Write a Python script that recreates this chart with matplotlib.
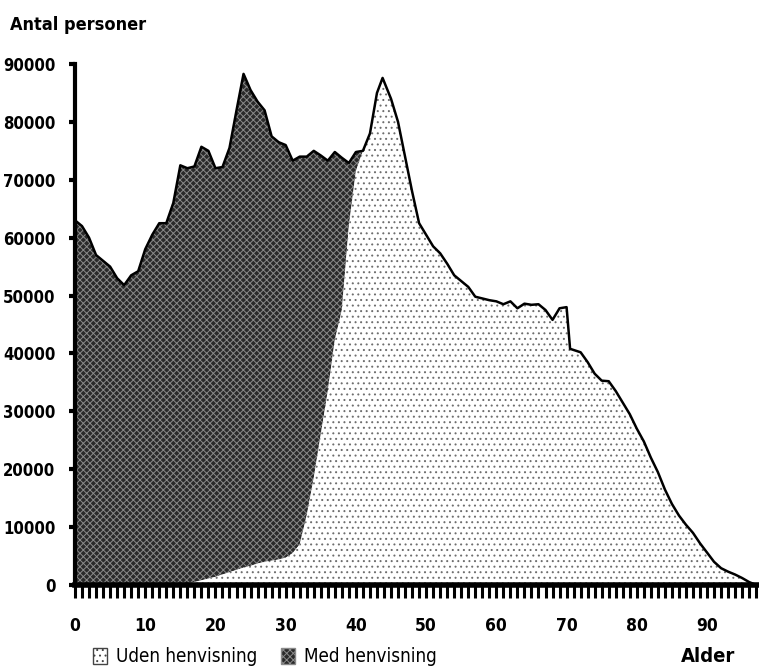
import matplotlib.pyplot as plt
from matplotlib.patches import Patch
from matplotlib.ticker import MultipleLocator

# ------------------------------------------------------------
# Data
# ------------------------------------------------------------

alder = [0, 1, 2, 3, 4, 5, 6, 7, 8, 9,
         10, 11, 12, 13, 14, 15, 16, 17, 18, 19,
         20, 21, 22, 23, 24, 25, 26, 27, 28, 29,
         30, 31, 32, 33, 34, 35, 36, 37, 38, 39,
         40, 41, 42, 43, 43.8, 45, 46, 47, 48, 49,
         50, 51, 52, 53, 54, 55, 56, 57, 58, 59,
         60, 61, 62, 63, 64, 65, 66, 67, 68, 69,
         70, 70.5, 72, 73, 74, 75, 76, 77, 78, 79,
         80, 81, 82, 83, 84, 85, 86, 87, 88, 89,
         90, 91, 92, 93, 94, 95, 96, 97]

# samlet antal personer (toppen af kurven)
total = [63000, 62000, 60000, 57000, 56000, 55000, 53000, 51800, 53500, 54200,
         58000, 60500, 62500, 62500, 66000, 72500, 72000, 72300, 75700, 75000,
         72000, 72200, 75500, 82000, 88300, 85500, 83500, 82000, 77500, 76500,
         76000, 73300, 74000, 74000, 75000, 74200, 73300, 74800, 73800, 72900,
         74800, 75000, 78000, 85000, 87600, 84000, 80000, 74000, 68000, 62500,
         60500, 58500, 57300, 55500, 53500, 52500, 51500, 49800, 49500, 49200,
         49000, 48500, 49000, 47800, 48600, 48400, 48500, 47500, 45800, 47800,
         48000, 40800, 40200, 38500, 36500, 35300, 35200, 33500, 31500, 29500,
         27000, 24800, 22000, 19500, 16500, 14000, 12000, 10400, 9000, 7200,
         5600, 4000, 2900, 2300, 1800, 1200, 500, 0]

# uden henvisning (nederste lag)
uden = [0, 0, 0, 0, 0, 0, 0, 0, 0, 0,
        0, 0, 0, 0, 0, 0, 200, 500, 800, 1100,
        1400, 1800, 2200, 2600, 3000, 3300, 3700, 4000, 4200, 4400,
        4700, 5500, 7000, 12000, 18500, 26000, 33500, 42300, 47500, 62000,
        71500, 75000, 78000, 85000, 87600, 84000, 80000, 74000, 68000, 62500,
        60500, 58500, 57300, 55500, 53500, 52500, 51500, 49800, 49500, 49200,
        49000, 48500, 49000, 47800, 48600, 48400, 48500, 47500, 45800, 47800,
        48000, 40800, 40200, 38500, 36500, 35300, 35200, 33500, 31500, 29500,
        27000, 24800, 22000, 19500, 16500, 14000, 12000, 10400, 9000, 7200,
        5600, 4000, 2900, 2300, 1800, 1200, 500, 0]

y_ticks = [0, 10000, 20000, 30000, 40000, 50000, 60000, 70000, 80000, 90000]
x_ticks = [0, 10, 20, 30, 40, 50, 60, 70, 80, 90]

# ------------------------------------------------------------
# Figur
# ------------------------------------------------------------

plt.rcParams["font.family"] = ["DejaVu Sans"]
plt.rcParams["font.stretch"] = "condensed"
plt.rcParams["hatch.linewidth"] = 0.7

fig = plt.figure(figsize=(7.59, 6.69), dpi=100)
ax = fig.add_axes([0.0988, 0.1256, 0.9012, 0.7787])

dark = ax.fill_between(alder, uden, total, facecolor="#2a2a2a",
                       edgecolor="#8a8a8a", hatch="xxxxx", linewidth=0)
light = ax.fill_between(alder, 0, uden, facecolor="white",
                        edgecolor="#6e6e6e", hatch="...", linewidth=0)
ax.plot(alder, total, color="black", lw=1.8)

ax.set_xlim(0, 97.4)
ax.set_ylim(0, 90000)

ax.set_yticks(y_ticks)
ax.set_yticklabels([str(v) for v in y_ticks])
ax.set_xticks(x_ticks)
ax.set_xticklabels([str(v) for v in x_ticks])
ax.xaxis.set_minor_locator(MultipleLocator(1))

for s in ["top", "right"]:
    ax.spines[s].set_visible(False)
ax.spines["left"].set_linewidth(3)
ax.spines["bottom"].set_linewidth(4)

ax.tick_params(axis="y", length=4, width=3, pad=10, labelsize=12)
ax.tick_params(axis="x", which="major", length=9, width=2.2, pad=14, labelsize=12.5)
ax.tick_params(axis="x", which="minor", length=9, width=2.2)
for lab in ax.get_xticklabels() + ax.get_yticklabels():
    lab.set_fontweight("bold")

fig.text(10 / 759, 1 - 25 / 669, "Antal personer", fontsize=13,
         fontweight="bold", ha="left", va="center")
fig.text(708 / 759, 1 - 657 / 669, "Alder", fontsize=14.5,
         fontweight="bold", ha="center", va="center")

handles = [
    Patch(facecolor="white", edgecolor="#444444", hatch="...", linewidth=1),
    Patch(facecolor="#2a2a2a", edgecolor="#8a8a8a", hatch="xxxxx", linewidth=1),
]
fig.legend(handles, ["Uden henvisning", "Med henvisning"],
           loc="center left", bbox_to_anchor=(93 / 759, 1 - 657 / 669),
           ncol=2, frameon=False, fontsize=13.5, borderpad=0, borderaxespad=0,
           handlelength=0.75, handleheight=0.9, handletextpad=0.45,
           columnspacing=1.3)

fig.savefig("out.png", dpi=100)
